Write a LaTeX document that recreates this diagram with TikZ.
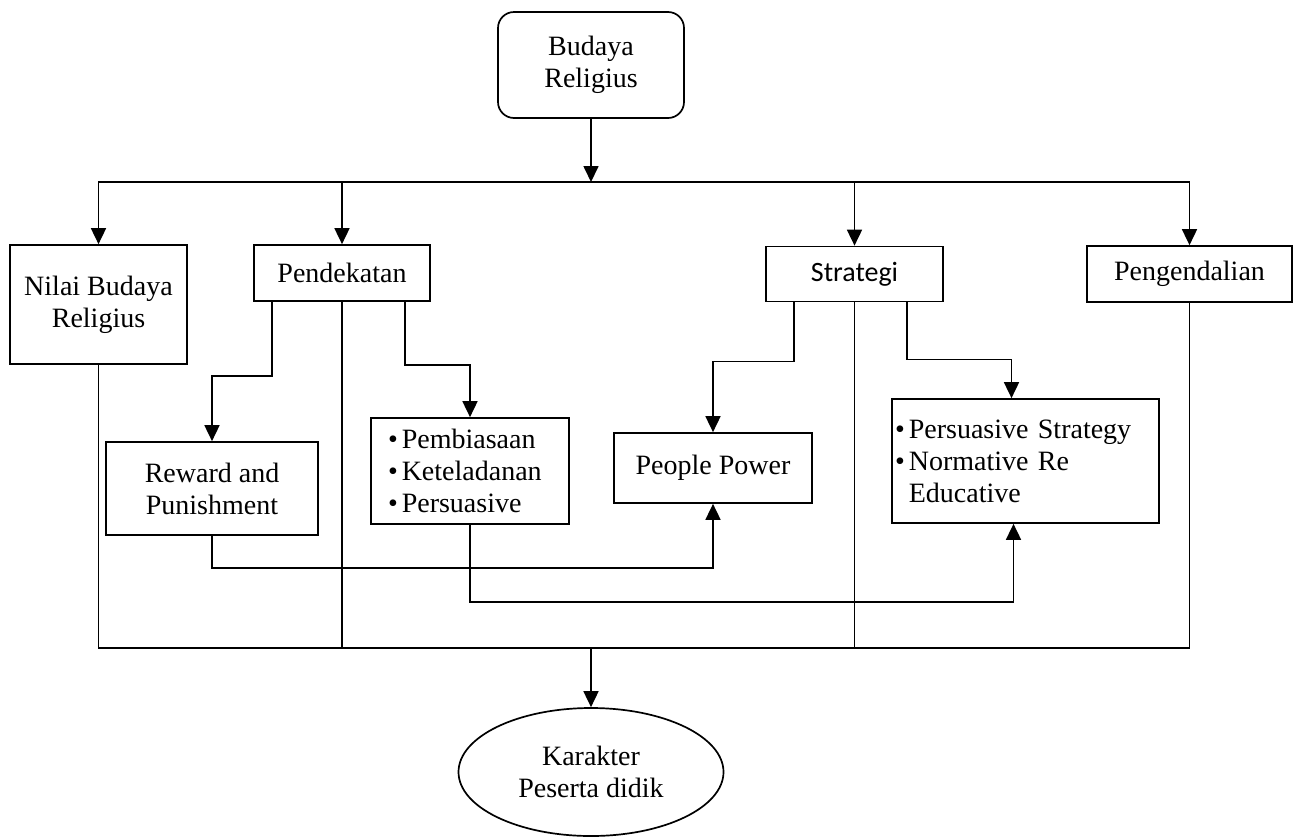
\documentclass[tikz,border=0pt]{standalone}
\usepackage{fontspec}
\setmainfont{Liberation Serif}
\newfontfamily\calibrifont{Carlito}
\usetikzlibrary{positioning,shapes.geometric,arrows.meta}

\begin{document}
\begin{tikzpicture}[x=1pt,y=-1pt,>={Triangle[width=15pt,length=16pt]},
    line width=1.7pt,
    every node/.style={font=\fontsize{28}{32}\selectfont},
    box/.style={draw, inner sep=0pt, align=center},
    listbox/.style={draw, inner ysep=0pt, align=left}]
    \useasboundingbox (0,0) rectangle (1297,836);

    % top and first row
    \node[box, rounded corners=16pt, minimum width=186pt, minimum height=106pt] (budaya) at (591,65) {Budaya\\Religius};
    \node[box, minimum width=177pt, minimum height=119pt] (nilai) at (98.5,304.5) {Nilai Budaya\\Religius};
    \node[box, minimum width=176pt, minimum height=56pt] (pendekatan) at (342,273) {Pendekatan};
    \node[box, minimum width=177pt, minimum height=55pt, font=\calibrifont\fontsize{28}{32}\selectfont] (strategi) at (854.5,274) {Strategi};
    \node[box, minimum width=205pt, minimum height=56pt] (pengendalian) at (1189.5,274) {Pengendalian};

    % second row
    \node[box, minimum width=212pt, minimum height=93pt] (reward) at (212,488.5) {Reward and\\Punishment};
    \node[listbox, inner xsep=17pt, text width=164pt, minimum height=106pt] (pembiasaan) at (470,471)
        {\textbullet\hspace{4pt}Pembiasaan\\\textbullet\hspace{4pt}Keteladanan\\\textbullet\hspace{4pt}Persuasive};
    \node[box, minimum width=198pt, minimum height=70pt] (people) at (713,468) {People Power};
    \node[listbox, inner xsep=3pt, text width=261pt, minimum height=124pt] (persuasif) at (1025.5,461)
        {\textbullet\hspace{4pt}Persuasive Strategy\\\textbullet\hspace{4pt}Normative Re\\\hphantom{\textbullet}\hspace{4pt}Educative};

    \node[draw, ellipse, inner sep=0pt, align=center, minimum width=265pt, minimum height=128pt] (karakter) at (591,772) {Karakter\\Peserta didik};

    \coordinate (atas) at (591,182);
    \coordinate (bawah) at (591,648);

    \draw[->] (budaya) -- (atas);
    \foreach \n in {nilai,pendekatan,strategi,pengendalian}
        \draw[->] (atas) -| (\n);
    \foreach \n in {nilai,pendekatan,strategi,pengendalian}
        \draw (\n) |- (bawah);
    \draw[->] (bawah) -- (karakter);

    % branches
    \draw[->] ([xshift=19pt]pendekatan.south west) -- ++(0,74) -| (reward);
    \draw[->] ([xshift=-26pt]pendekatan.south east) -- ++(0,63) -| (pembiasaan);
    \draw[->] ([xshift=29pt]strategi.south west) -- ++(0,59) -| (people);
    \draw[->] ([xshift=-37pt]strategi.south east) -- ++(0,57) -| ([xshift=-14pt]persuasif.north);
    \draw[->] (reward.south) -- ++(0,32) -| (people);
    \draw[->] (pembiasaan.south) -- ++(0,77) -| ([xshift=-12pt]persuasif.south);
\end{tikzpicture}
\end{document}
